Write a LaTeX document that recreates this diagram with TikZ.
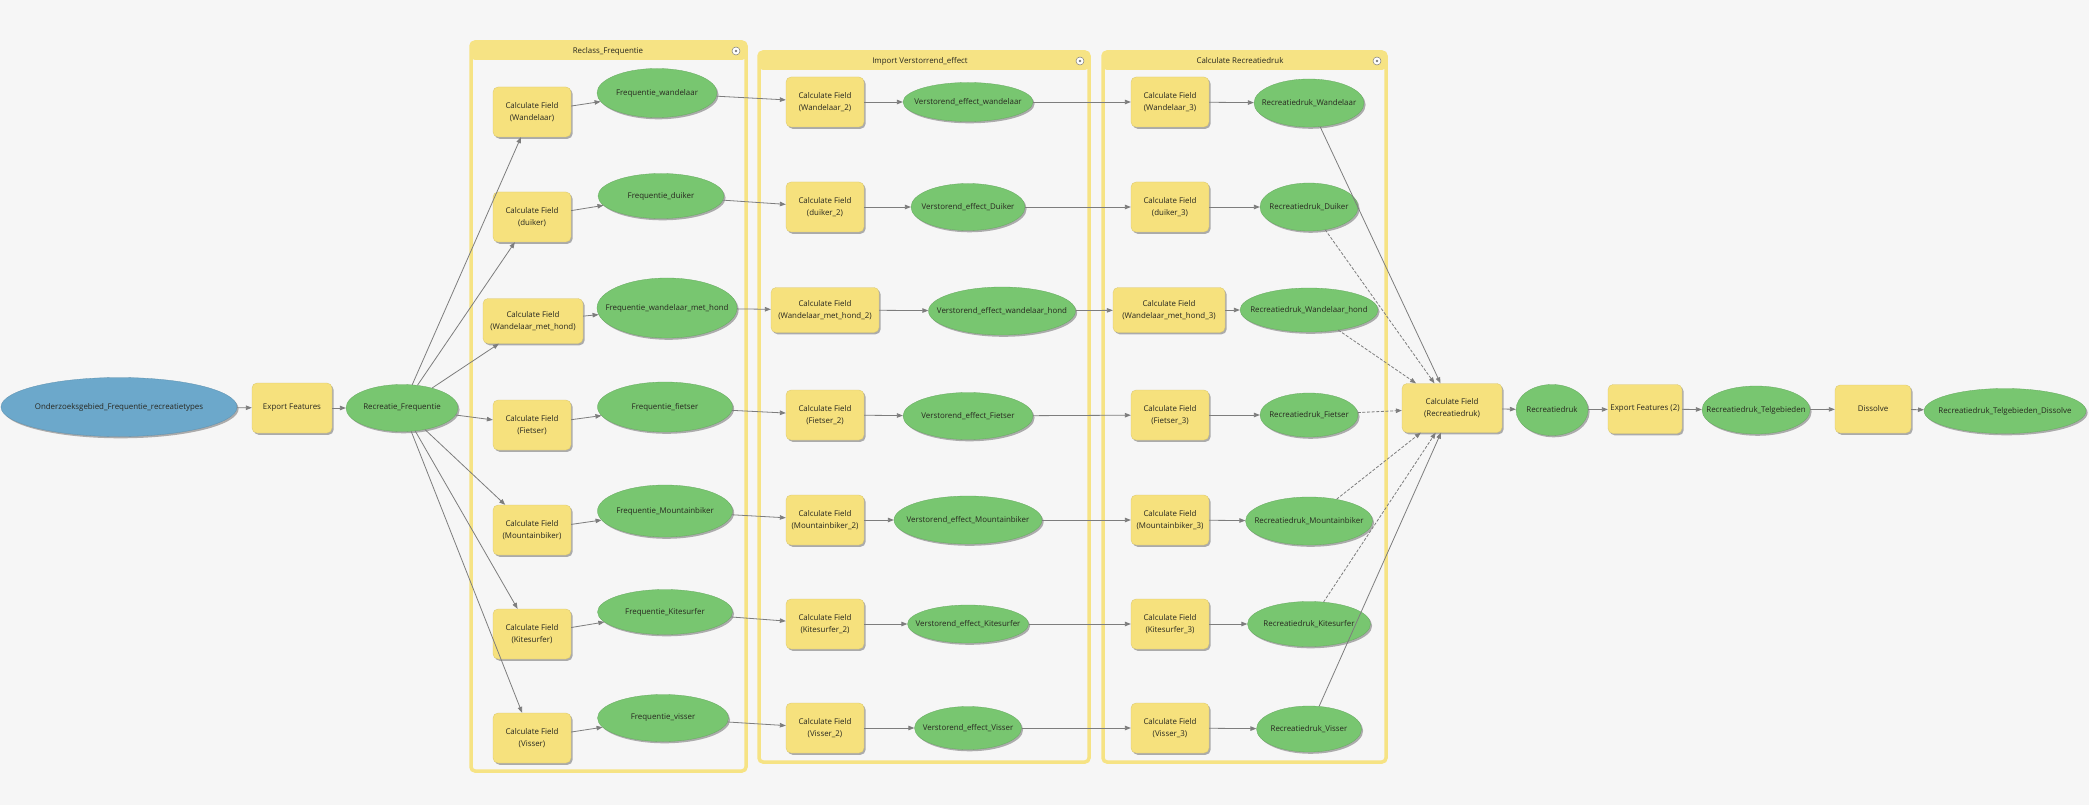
\documentclass[tikz,border=0pt]{standalone}
\usepackage{fontspec}
\setmainfont{Open Sans}
\usetikzlibrary{shapes.geometric,arrows.meta,shadows}
\definecolor{bgc}{RGB}{246,246,246}
\definecolor{tyel}{RGB}{246,225,125}
\definecolor{gyel}{RGB}{246,227,132}
\definecolor{dgreen}{RGB}{120,198,112}
\definecolor{sblue}{RGB}{108,168,203}
\definecolor{lgrey}{RGB}{125,125,125}
\definecolor{txt}{RGB}{40,40,32}
\newcommand{\mz}[1]{\makebox[0pt][c]{#1}}
\tikzset{
  shad/.style={drop shadow={shadow xshift=1.6pt,shadow yshift=-1.8pt,opacity=0.30,fill=black}},
  tool/.style={rectangle, rounded corners=5pt, fill=tyel, draw=tyel!88!black, line width=0.3pt,
    align=center, inner sep=1pt, minimum width=78pt, minimum height=50pt, shad, text=txt},
  data/.style={ellipse, fill=dgreen, draw=dgreen!85!black, line width=0.3pt, inner sep=0pt, shad, text=txt},
  srcd/.style={ellipse, fill=sblue, draw=sblue!85!black, line width=0.3pt, inner sep=0pt, shad, text=txt},
  conn/.style={draw=lgrey, line width=0.8pt, -{Triangle[length=6pt,width=4.5pt]}},
  dconn/.style={conn, dash pattern=on 3pt off 1.6pt},
  grpframe/.style={draw=gyel, line width=3.5pt, rounded corners=4pt},
  grpbar/.style={fill=gyel, rounded corners=4pt},
  icon/.style={circle, draw=lgrey, fill=white, line width=0.5pt, inner sep=0pt, minimum size=8pt},
}
\begin{document}
\begin{tikzpicture}[x=1pt,y=-1pt,font=\fontsize{7.9}{12}\selectfont]
\fill[bgc] (0,0) rectangle (2089,805);
\useasboundingbox (0,0) rectangle (2089,805);

% ---------- groups ----------
\fill[grpbar] (471,42) rectangle (746,60);
\draw[grpframe] (471,42) rectangle (746,771);
\node[text=txt] (g1t) at (608,51) {Reclass\_Frequentie};
\node[icon] (g1i) at (736,51) {};
\fill[lgrey] (g1i.center) circle (1.3pt);

\fill[grpbar] (759,52) rectangle (1089,70);
\draw[grpframe] (759,52) rectangle (1089,762);
\node[text=txt] (g2t) at (920,61) {Import Verstorrend\_effect};
\node[icon] (g2i) at (1080,61) {};
\fill[lgrey] (g2i.center) circle (1.3pt);

\fill[grpbar] (1103,52) rectangle (1386,70);
\draw[grpframe] (1103,52) rectangle (1386,762);
\node[text=txt] (g3t) at (1240,61) {Calculate Recreatiedruk};
\node[icon] (g3i) at (1377,61) {};
\fill[lgrey] (g3i.center) circle (1.3pt);

% ---------- left ----------
\node[srcd, minimum width=236pt, minimum height=59pt] (src) at (119,407) {\mz{Onderzoeksgebied\_Frequentie\_recreatietypes}};
\node[tool, minimum width=80pt] (exp) at (292,408) {Export Features};
\node[data, minimum width=112pt, minimum height=47pt] (rf) at (402,408) {\mz{Recreatie\_Frequentie}};

% ---------- Reclass ----------
\node[tool] (a1) at (532,112) {Calculate Field\\(Wandelaar)};
\node[tool] (a2) at (532,217) {Calculate Field\\(duiker)};
\node[tool, minimum width=100pt, minimum height=45pt] (a3) at (533,321) {Calculate Field\\(Wandelaar\_met\_hond)};
\node[tool] (a4) at (532,425) {Calculate Field\\(Fietser)};
\node[tool] (a5) at (532,530) {Calculate Field\\(Mountainbiker)};
\node[tool] (a6) at (532,634) {Calculate Field\\(Kitesurfer)};
\node[tool] (a7) at (532,738) {Calculate Field\\(Visser)};

\node[data, minimum width=120pt, minimum height=49pt] (f1) at (657,93) {\mz{Frequentie\_wandelaar}};
\node[data, minimum width=126pt, minimum height=45pt] (f2) at (661,196) {\mz{Frequentie\_duiker}};
\node[data, minimum width=140pt, minimum height=60pt] (f3) at (667,308) {\mz{Frequentie\_wandelaar\_met\_hond}};
\node[data, minimum width=135pt, minimum height=50pt] (f4) at (665,407) {\mz{Frequentie\_fietser}};
\node[data, minimum width=135pt, minimum height=52pt] (f5) at (665,511) {\mz{Frequentie\_Mountainbiker}};
\node[data, minimum width=135pt, minimum height=45pt] (f6) at (665,612) {\mz{Frequentie\_Kitesurfer}};
\node[data, minimum width=131pt, minimum height=47pt] (f7) at (663,718) {\mz{Frequentie\_visser}};

% ---------- Import ----------
\node[tool] (b1) at (825,102) {Calculate Field\\(Wandelaar\_2)};
\node[tool] (b2) at (825,207) {Calculate Field\\(duiker\_2)};
\node[tool, minimum width=108pt, minimum height=45pt] (b3) at (825,310) {Calculate Field\\(Wandelaar\_met\_hond\_2)};
\node[tool] (b4) at (825,415) {Calculate Field\\(Fietser\_2)};
\node[tool] (b5) at (825,520) {Calculate Field\\(Mountainbiker\_2)};
\node[tool] (b6) at (825,624) {Calculate Field\\(Kitesurfer\_2)};
\node[tool] (b7) at (825,728) {Calculate Field\\(Visser\_2)};

\node[data, minimum width=130pt, minimum height=39pt] (v1) at (968,102) {\mz{Verstorend\_effect\_wandelaar}};
\node[data, minimum width=114pt, minimum height=47pt] (v2) at (968,207) {\mz{Verstorend\_effect\_Duiker}};
\node[data, minimum width=147pt, minimum height=48pt] (v3) at (1002,311) {\mz{Verstorend\_effect\_wandelaar\_hond}};
\node[data, minimum width=130pt, minimum height=47pt] (v4) at (968,416) {\mz{Verstorend\_effect\_Fietser}};
\node[data, minimum width=148pt, minimum height=48pt] (v5) at (968,520) {\mz{Verstorend\_effect\_Mountainbiker}};
\node[data, minimum width=121pt, minimum height=38pt] (v6) at (968,624) {\mz{Verstorend\_effect\_Kitesurfer}};
\node[data, minimum width=107pt, minimum height=43pt] (v7) at (968,728) {\mz{Verstorend\_effect\_Visser}};

% ---------- Calculate Recreatiedruk ----------
\node[tool] (c1) at (1170,102) {Calculate Field\\(Wandelaar\_3)};
\node[tool] (c2) at (1170,207) {Calculate Field\\(duiker\_3)};
\node[tool, minimum width=112pt, minimum height=45pt] (c3) at (1169,310) {Calculate Field\\(Wandelaar\_met\_hond\_3)};
\node[tool] (c4) at (1170,415) {Calculate Field\\(Fietser\_3)};
\node[tool] (c5) at (1170,520) {Calculate Field\\(Mountainbiker\_3)};
\node[tool] (c6) at (1170,624) {Calculate Field\\(Kitesurfer\_3)};
\node[tool] (c7) at (1170,728) {Calculate Field\\(Visser\_3)};

\node[data, minimum width=110pt, minimum height=48pt] (r1) at (1309,103) {\mz{Recreatiedruk\_Wandelaar}};
\node[data, minimum width=98pt, minimum height=48pt] (r2) at (1309,207) {\mz{Recreatiedruk\_Duiker}};
\node[data, minimum width=138pt, minimum height=44pt] (r3) at (1309,310) {\mz{Recreatiedruk\_Wandelaar\_hond}};
\node[data, minimum width=98pt, minimum height=44pt] (r4) at (1309,415) {\mz{Recreatiedruk\_Fietser}};
\node[data, minimum width=127pt, minimum height=48pt] (r5) at (1309,521) {\mz{Recreatiedruk\_Mountainbiker}};
\node[data, minimum width=123pt, minimum height=45pt] (r6) at (1309,624) {\mz{Recreatiedruk\_Kitesurfer}};
\node[data, minimum width=105pt, minimum height=46pt] (r7) at (1309,729) {\mz{Recreatiedruk\_Visser}};

% ---------- right chain ----------
\node[tool, minimum width=100pt, minimum height=49pt] (cr) at (1452,408) {Calculate Field\\(Recreatiedruk)};
\node[data, minimum width=72pt, minimum height=51pt] (rd) at (1552,410) {\mz{Recreatiedruk}};
\node[tool, minimum width=74pt, minimum height=49pt] (ef2) at (1645,409) {\mz{Export Features (2)}};
\node[data, minimum width=108pt, minimum height=48pt] (tg) at (1756,410) {\mz{Recreatiedruk\_Telgebieden}};
\node[tool, minimum width=76pt, minimum height=48pt] (ds) at (1873,409) {Dissolve};
\node[data, minimum width=162pt, minimum height=45pt] (tgd) at (2005,411) {\mz{Recreatiedruk\_Telgebieden\_Dissolve}};

% ---------- connectors ----------
\draw[conn] (src) -- (exp);
\draw[conn] (exp) -- (rf);
\foreach \i in {1,...,7} {
  \draw[conn] (rf) -- (a\i);
  \draw[conn] (a\i) -- (f\i);
  \draw[conn] (f\i) -- (b\i);
  \draw[conn] (b\i) -- (v\i);
  \draw[conn] (v\i) -- (c\i);
  \draw[conn] (c\i) -- (r\i);
}
\draw[conn] (r1) -- (cr);
\draw[dconn] (r2) -- (cr);
\draw[dconn] (r3) -- (cr);
\draw[dconn] (r4) -- (cr);
\draw[dconn] (r5) -- (cr);
\draw[dconn] (r6) -- (cr);
\draw[conn] (r7) -- (cr);
\draw[conn] (cr) -- (rd);
\draw[conn] (rd) -- (ef2);
\draw[conn] (ef2) -- (tg);
\draw[conn] (tg) -- (ds);
\draw[conn] (ds) -- (tgd);
\end{tikzpicture}
\end{document}
